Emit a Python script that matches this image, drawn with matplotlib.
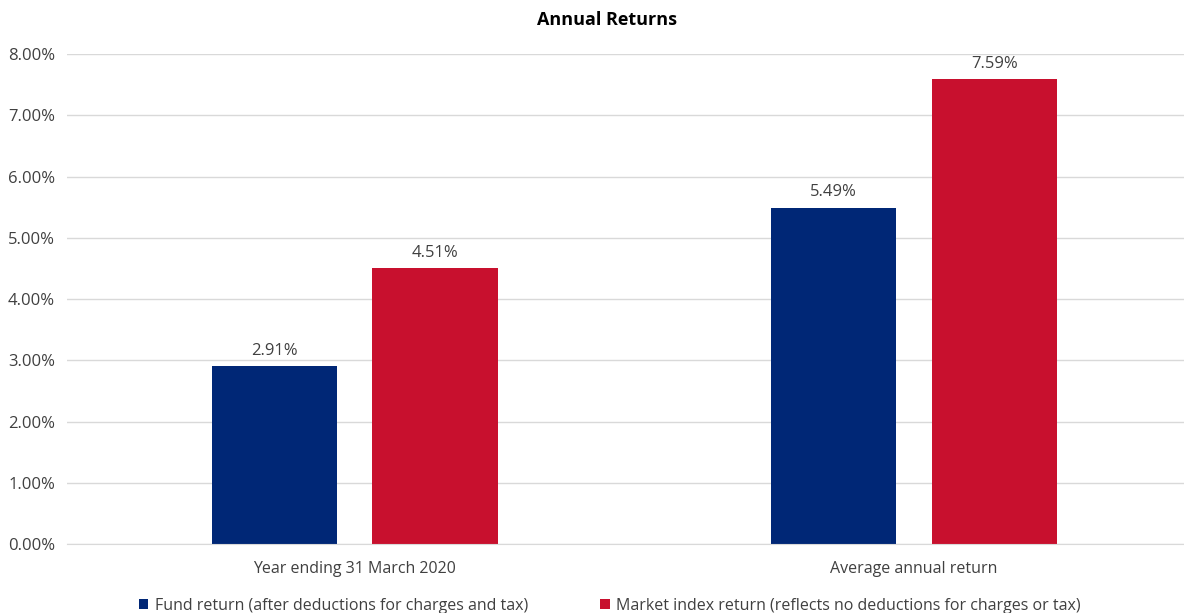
import matplotlib.pyplot as plt
import numpy as np

categories = ["Year ending 31 March 2020", "Average annual return"]
fund_return = [2.91, 5.49]
index_return = [4.51, 7.59]
series_names = ["Fund return (after deductions for charges and tax)",
                "Market index return (reflects no deductions for charges or tax)"]
yticks = [0, 1, 2, 3, 4, 5, 6, 7, 8]

navy = "#002776"
red = "#C8102E"

plt.rcParams['font.family'] = ['Open Sans', 'DejaVu Sans']
fig = plt.figure(figsize=(11.84, 6.13), dpi=100)
ax = fig.add_axes([0.057, 0.112, 0.943, 0.8])

x = np.arange(len(categories))
w = 0.224
gap = 0.063
b1 = ax.bar(x - (w + gap) / 2, fund_return, w, color=navy, label=series_names[0])
b2 = ax.bar(x + (w + gap) / 2, index_return, w, color=red, label=series_names[1])

for bars, vals in ((b1, fund_return), (b2, index_return)):
    for b, v in zip(bars, vals):
        ax.text(b.get_x() + b.get_width() / 2, v + 0.12, "%.2f%%" % v,
                ha='center', va='bottom', fontsize=12, color='#404040')

ax.set_xlim(-0.514, 1.483)
ax.set_ylim(0, 8)
ax.set_yticks(yticks)
ax.set_yticklabels(["%.2f%%" % t for t in yticks], fontsize=12, color='#404040')
ax.set_xticks(x)
ax.set_xticklabels(categories, fontsize=11.5, color='#404040')
ax.tick_params(axis='y', length=0, pad=9)
ax.tick_params(axis='x', length=0, pad=12)
ax.grid(axis='y', color='#d9d9d9', linewidth=1)
ax.set_axisbelow(True)
for s in ['top', 'right', 'left']:
    ax.spines[s].set_visible(False)
ax.spines['bottom'].set_color('#d9d9d9')

fig.text(0.513, 0.967, "Annual Returns", ha='center', va='center',
         fontsize=13, fontweight='bold', color='black')

fig.legend(loc='lower center', bbox_to_anchor=(0.515, -0.025), ncol=2, frameon=False,
           fontsize=11.5, handlelength=0.6, handleheight=0.6, columnspacing=4.5,
           handletextpad=0.4, labelcolor='#404040')

fig.savefig("out.png", dpi=100)
